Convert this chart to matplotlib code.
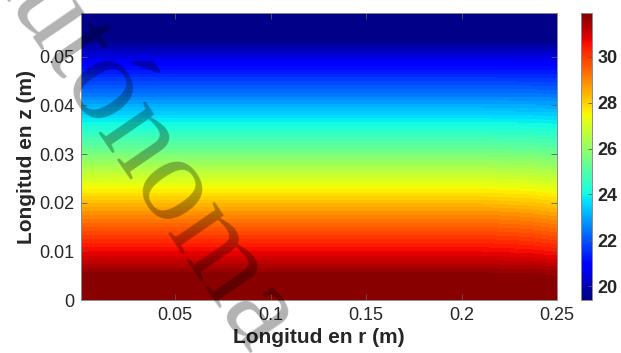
import numpy as np
import matplotlib
matplotlib.use("Agg")
import matplotlib.pyplot as plt
from matplotlib import cm, colors

plt.rcParams["font.family"] = ["Liberation Sans", "DejaVu Sans"]

# --- datos ---
r_pts = [0.0007, 0.21, 0.235, 0.25]  # m
z_pts = [0.0, 0.003, 0.0055, 0.0086, 0.0117, 0.018, 0.024, 0.030,
         0.036, 0.042, 0.048, 0.053, 0.056, 0.059]  # m
# temperatura a lo largo de z en cada columna de r
t_centro = [31.9, 31.85, 31.72, 31.0, 30.3, 28.8, 27.2, 25.6,
            24.1, 22.5, 21.0, 19.6, 19.45, 19.4]
t_r021 = [31.9, 31.85, 31.72, 31.0, 30.3, 28.8, 27.2, 25.6,
          24.1, 22.5, 21.0, 19.6, 19.45, 19.4]
t_r0235 = [31.9, 31.84, 31.7, 30.93, 30.2, 28.68, 27.1, 25.54,
           24.06, 22.48, 20.99, 19.6, 19.45, 19.4]
t_borde = [31.88, 31.82, 31.66, 30.82, 30.02, 28.5, 26.95, 25.45,
           24.0, 22.45, 20.97, 19.58, 19.44, 19.4]

t_min, t_max = 19.4, 31.9
xticks = [0.05, 0.1, 0.15, 0.2, 0.25]
yticks = [0, 0.01, 0.02, 0.03, 0.04, 0.05]
cticks = [20, 22, 24, 26, 28, 30]

T = np.column_stack([t_centro, t_r021, t_r0235, t_borde])
R, Z = np.meshgrid(r_pts, z_pts)

fig = plt.figure(figsize=(6.21, 3.53), dpi=100)
ax = fig.add_axes([0.1304, 0.150, 0.7666, 0.813])
cax = fig.add_axes([0.9356, 0.150, 0.0177, 0.813])

niveles = np.linspace(t_min, t_max, 64)
ax.contourf(R, Z, T, levels=niveles, cmap="jet", extend="both")
ax.set_xlim(0.0007, 0.25)
ax.set_ylim(0, 0.059)

ax.set_xticks(xticks)
ax.set_xticklabels(["0.05", "0.1", "0.15", "0.2", "0.25"])
ax.set_yticks(yticks)
ax.set_yticklabels(["0", "0.01", "0.02", "0.03", "0.04", "0.05"])
ax.tick_params(direction="in", top=True, right=True, length=4, width=0.6,
               color="0.35", labelsize=13, labelcolor="0.15", pad=5)
for s in ax.spines.values():
    s.set_color("0.55")
    s.set_linewidth(0.7)

ax.set_xlabel("Longitud en r (m)", fontsize=15, fontweight="bold",
              color="0.15", labelpad=3)
ax.set_ylabel("Longitud en z (m)", fontsize=15, fontweight="bold",
              color="0.15", labelpad=2)

sm = cm.ScalarMappable(norm=colors.Normalize(t_min, t_max), cmap="jet")
cb = fig.colorbar(sm, cax=cax)
cb.set_ticks(cticks)
cb.ax.tick_params(direction="in", length=3, width=0.6, color="0.35",
                  labelsize=13, labelcolor="0.15", pad=4)
for lab in cb.ax.get_yticklabels():
    lab.set_fontweight("bold")
cb.outline.set_edgecolor("0.55")
cb.outline.set_linewidth(0.7)

# marca de agua
fig.text(-0.068, 1.198, "Autónoma", rotation=-55.5, rotation_mode="anchor",
         ha="left", va="baseline", fontsize=88, color="black", alpha=0.3,
         family=["Liberation Serif", "DejaVu Serif"], zorder=10)

fig.savefig("out.png", dpi=100)
